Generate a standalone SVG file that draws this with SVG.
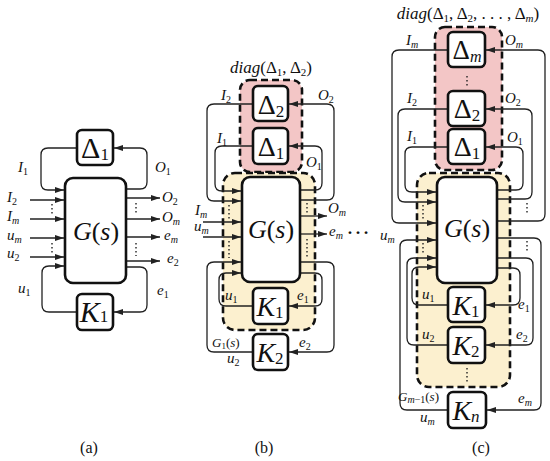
<svg xmlns="http://www.w3.org/2000/svg" width="550" height="461" viewBox="0 0 550 461" font-family="'Liberation Serif', 'DejaVu Serif', serif">
<style>
.box{fill:#fff;stroke:#111;stroke-width:2.6}
.cn{fill:none;stroke:#222;stroke-width:1.3}
.arr{marker-end:url(#ah)}
.dot{fill:none;stroke:#222;stroke-width:1.4;stroke-dasharray:1.4 2.6}
.dash{stroke:#111;stroke-width:2.6;stroke-dasharray:7 4}
.red{fill:#f3c6c6}
.yel{fill:#fcf0cf}
text, tspan{font-family:"Liberation Serif","DejaVu Serif",serif}
text{fill:#111}
.m{font-style:italic;font-size:15px}
.s{font-size:10px}
.n{font-style:normal}
.bg{font-size:28px;text-anchor:middle}
.bs{font-size:17px}
.cap{font-size:16px;text-anchor:middle}
</style>
<defs>
<marker id="ah" viewBox="0 0 9 6" refX="9" refY="3" markerWidth="9" markerHeight="6" orient="auto" markerUnits="userSpaceOnUse">
<path d="M0,0 L9,3 L0,6 z" fill="#222"/>
</marker>
</defs>

<!-- regions -->
<g id="region-b-diag"><rect class="red dash" x="240" y="80" width="62" height="92" rx="10"/></g>
<g id="region-b-G1"><rect class="yel dash" x="223" y="173" width="92" height="157" rx="12"/></g>
<g id="region-c-diag"><rect class="red dash" x="435" y="27" width="67" height="143" rx="10"/></g>
<g id="region-c-Gm1"><rect class="yel dash" x="417" y="173" width="93" height="214" rx="12"/></g>

<!-- connectors -->
<g id="connectors">
<!-- panel a -->
<path class="cn arr" d="M77,148 H48 Q41,148 41,155 V183 Q41,190 48,190 H64"/>
<path class="cn arr" d="M126,189 H140 Q147,189 147,182 V155 Q147,148 140,148 H114"/>
<path class="cn arr" d="M30,200 H64"/>
<path class="cn arr" d="M30,219 H64"/>
<path class="cn arr" d="M30,238 H64"/>
<path class="cn arr" d="M30,257 H64"/>
<path class="cn arr" d="M77,312 H49 Q42,312 42,305 V273 Q42,266 49,266 H64"/>
<path class="cn arr" d="M126,267 H140 Q147,267 147,274 V305 Q147,312 140,312 H114"/>
<path class="cn arr" d="M126,198 H160"/>
<path class="cn arr" d="M126,219 H160"/>
<path class="cn arr" d="M126,237 H160"/>
<path class="cn arr" d="M126,261 H160"/>
<path class="dot" d="M52,204 V215 M52,243 V254 M136,203 V214 M136,243 V256"/>
<!-- panel b -->
<path class="cn arr" d="M253,104 H214 Q207,104 207,111 V194 Q207,201 214,201 H241"/>
<path class="cn arr" d="M300,200 H327 Q334,200 334,193 V111 Q334,104 327,104 H289"/>
<path class="cn arr" d="M253,146 H222 Q215,146 215,153 V184 Q215,191 222,191 H241"/>
<path class="cn arr" d="M300,190 H315 Q322,190 322,183 V153 Q322,146 315,146 H289"/>
<path class="cn arr" d="M203,222 H241"/>
<path class="cn arr" d="M203,237 H241"/>
<path class="cn arr" d="M300,216 H327"/>
<path class="cn arr" d="M300,234 H327"/>
<path class="cn arr" d="M253,306 H226 Q219,306 219,299 V280 Q219,273 226,273 H241"/>
<path class="cn arr" d="M300,273 H315 Q322,273 322,280 V299 Q322,306 315,306 H289"/>
<path class="cn arr" d="M253,352 H214 Q207,352 207,345 V269 Q207,262 214,262 H241"/>
<path class="cn arr" d="M300,262 H327 Q334,262 334,269 V345 Q334,352 327,352 H289"/>
<path class="dot" d="M229,205 V219 M229,241 V258 M307,203 V213 M307,239 V257"/>
<!-- panel c -->
<path class="cn arr" d="M448,50 H399 Q392,50 392,57 V216 Q392,223 399,223 H436"/>
<path class="cn arr" d="M448,109 H405 Q398,109 398,116 V195 Q398,202 405,202 H436"/>
<path class="cn arr" d="M448,147 H412 Q405,147 405,154 V185 Q405,192 412,192 H436"/>
<path class="cn arr" d="M497,221 H538 Q545,221 545,214 V57 Q545,50 538,50 H486"/>
<path class="cn arr" d="M497,199 H525 Q532,199 532,192 V116 Q532,109 525,109 H486"/>
<path class="cn arr" d="M497,190 H516 Q523,190 523,183 V154 Q523,147 516,147 H486"/>
<path class="cn arr" d="M448,410 H407 Q400,410 400,403 V247 Q400,240 407,240 H436"/>
<path class="cn arr" d="M448,345 H414 Q407,345 407,338 V265 Q407,258 414,258 H436"/>
<path class="cn arr" d="M448,305 H419 Q412,305 412,298 V274 Q412,267 419,267 H436"/>
<path class="cn arr" d="M497,238 H534 Q541,238 541,245 V403 Q541,410 534,410 H487"/>
<path class="cn arr" d="M497,258 H526 Q533,258 533,265 V338 Q533,345 526,345 H486"/>
<path class="cn arr" d="M497,268 H513 Q520,268 520,275 V298 Q520,305 513,305 H486"/>
<path class="dot" d="M423,205 V219 M423,243 V255 M527,203 V215 M527,241 V252 M467,76 V88 M467,368 V384"/>
</g>

<!-- nodes panel a -->
<g id="a-Delta1"><rect class="box" x="77" y="130" width="36" height="35" rx="5"/>
<text class="bg" x="95" y="158" style="font-size:30px">Δ<tspan class="bs" dy="2">1</tspan></text></g>
<g id="a-G"><rect class="box" x="65" y="178" width="61" height="105" rx="8"/>
<text class="bg m" x="96" y="240" style="font-size:26px">G<tspan class="n">(</tspan>s<tspan class="n">)</tspan></text></g>
<g id="a-K1"><rect class="box" x="77" y="294" width="36" height="36" rx="5"/>
<text class="bg m" x="94" y="322" style="font-size:30px">K<tspan class="bs n" dy="0">1</tspan></text></g>

<!-- nodes panel b -->
<g id="b-Delta2"><rect class="box" x="253" y="86" width="35" height="35" rx="5"/>
<text class="bg" x="271" y="114">Δ<tspan class="bs" dy="3">2</tspan></text></g>
<g id="b-Delta1"><rect class="box" x="253" y="128" width="35" height="36" rx="5"/>
<text class="bg" x="271" y="156">Δ<tspan class="bs" dy="3">1</tspan></text></g>
<g id="b-G"><rect class="box" x="242" y="177" width="58" height="105" rx="8"/>
<text class="bg m" x="271" y="238" style="font-size:26px">G<tspan class="n">(</tspan>s<tspan class="n">)</tspan></text></g>
<g id="b-K1"><rect class="box" x="253" y="288" width="35" height="36" rx="5"/>
<text class="bg m" x="270" y="316">K<tspan class="bs n" dy="2">1</tspan></text></g>
<g id="b-K2"><rect class="box" x="253" y="334" width="35" height="36" rx="5"/>
<text class="bg m" x="270" y="362">K<tspan class="bs n" dy="2">2</tspan></text></g>

<!-- nodes panel c -->
<g id="c-Deltam"><rect class="box" x="448" y="32" width="37" height="35" rx="5"/>
<text class="bg" x="467" y="59" style="font-size:27px">Δ<tspan class="bs m" style="font-size:16px" dy="3">m</tspan></text></g>
<g id="c-Delta2"><rect class="box" x="448" y="91" width="37" height="35" rx="5"/>
<text class="bg" x="467" y="118">Δ<tspan class="bs" dy="3">2</tspan></text></g>
<g id="c-Delta1"><rect class="box" x="448" y="129" width="37" height="35" rx="5"/>
<text class="bg" x="467" y="156">Δ<tspan class="bs" dy="3">1</tspan></text></g>
<g id="c-G"><rect class="box" x="437" y="177" width="60" height="106" rx="8"/>
<text class="bg m" x="467" y="237" style="font-size:26px">G<tspan class="n">(</tspan>s<tspan class="n">)</tspan></text></g>
<g id="c-K1"><rect class="box" x="448" y="287" width="37" height="35" rx="5"/>
<text class="bg m" x="466" y="315">K<tspan class="bs n" dy="2">1</tspan></text></g>
<g id="c-K2"><rect class="box" x="448" y="327" width="37" height="36" rx="5"/>
<text class="bg m" x="466" y="355">K<tspan class="bs n" dy="2">2</tspan></text></g>
<g id="c-Kn"><rect class="box" x="448" y="392" width="38" height="36" rx="5"/>
<text class="bg m" x="466" y="420">K<tspan class="bs" dy="2">n</tspan></text></g>

<!-- labels -->
<g id="labels">
<text class="m" x="18" y="172">I<tspan class="s n" dy="3">1</tspan></text>
<text class="m" x="155" y="172">O<tspan class="s n" dy="3">1</tspan></text>
<text class="m" x="7" y="202">I<tspan class="s n" dy="3">2</tspan></text>
<text class="m" x="7" y="221">I<tspan class="s" dy="3">m</tspan></text>
<text class="m" x="7" y="240">u<tspan class="s" dy="3">m</tspan></text>
<text class="m" x="7" y="258">u<tspan class="s n" dy="3">2</tspan></text>
<text class="m" x="18" y="293">u<tspan class="s n" dy="3">1</tspan></text>
<text class="m" x="157" y="295">e<tspan class="s n" dy="3">1</tspan></text>
<text class="m" x="162" y="202">O<tspan class="s n" dy="3">2</tspan></text>
<text class="m" x="162" y="222">O<tspan class="s" dy="3">m</tspan></text>
<text class="m" x="164" y="240">e<tspan class="s" dy="3">m</tspan></text>
<text class="m" x="167" y="263">e<tspan class="s n" dy="3">2</tspan></text>

<text class="m" x="271" y="73" text-anchor="middle" style="font-size:17px">diag<tspan class="n">(Δ</tspan><tspan class="s n" style="font-size:11px" dy="3">1</tspan><tspan class="n" dy="-3">, Δ</tspan><tspan class="s n" style="font-size:11px" dy="3">2</tspan><tspan class="n" dy="-3">)</tspan></text>
<text class="m" x="221" y="100">I<tspan class="s n" dy="3">2</tspan></text>
<text class="m" x="318" y="100">O<tspan class="s n" dy="3">2</tspan></text>
<text class="m" x="217" y="143">I<tspan class="s n" dy="3">1</tspan></text>
<text class="m" x="306" y="167">O<tspan class="s n" dy="3">1</tspan></text>
<text class="m" x="195" y="215">I<tspan class="s" dy="3">m</tspan></text>
<text class="m" x="194" y="231">u<tspan class="s" dy="3">m</tspan></text>
<text class="m" x="328" y="213">O<tspan class="s" dy="3">m</tspan></text>
<text class="m" x="329" y="236">e<tspan class="s" dy="3">m</tspan></text>

<text class="m" x="225" y="300">u<tspan class="s n" dy="3">1</tspan></text>
<text class="m" x="297" y="300">e<tspan class="s n" dy="3">1</tspan></text>
<text class="m" x="212" y="347" style="font-size:13px">G<tspan class="n" style="font-size:9px" dy="2">1</tspan><tspan class="n" dy="-2">(</tspan>s<tspan class="n">)</tspan></text>
<text class="m" x="227" y="363">u<tspan class="s n" dy="3">2</tspan></text>
<text class="m" x="299" y="347">e<tspan class="s n" dy="3">2</tspan></text>

<text x="358" y="234" text-anchor="middle" style="font-size:24px">…</text>

<text class="m" x="468" y="19" text-anchor="middle" style="font-size:17px">diag<tspan class="n">(Δ</tspan><tspan class="s n" style="font-size:11px" dy="3">1</tspan><tspan class="n" dy="-3">, Δ</tspan><tspan class="s n" style="font-size:11px" dy="3">2</tspan><tspan class="n" dy="-3">, . . . , Δ</tspan><tspan class="s" style="font-size:11px" dy="3">m</tspan><tspan class="n" dy="-3">)</tspan></text>
<text class="m" x="406" y="45">I<tspan class="s" dy="3">m</tspan></text>
<text class="m" x="505" y="45">O<tspan class="s" dy="3">m</tspan></text>
<text class="m" x="407" y="103">I<tspan class="s n" dy="3">2</tspan></text>
<text class="m" x="505" y="103">O<tspan class="s n" dy="3">2</tspan></text>
<text class="m" x="407" y="141">I<tspan class="s n" dy="3">1</tspan></text>
<text class="m" x="507" y="142">O<tspan class="s n" dy="3">1</tspan></text>
<text class="m" x="380" y="240">u<tspan class="s" dy="3">m</tspan></text>
<text class="m" x="422" y="299">u<tspan class="s n" dy="3">1</tspan></text>
<text class="m" x="518" y="309">e<tspan class="s n" dy="3">1</tspan></text>
<text class="m" x="422" y="339">u<tspan class="s n" dy="3">2</tspan></text>
<text class="m" x="516" y="339">e<tspan class="s n" dy="3">2</tspan></text>
<text class="m" x="398" y="401" style="font-size:13px">G<tspan style="font-size:10px" dy="2">m</tspan><tspan class="n" style="font-size:10px">−1</tspan><tspan class="n" dy="-2">(</tspan>s<tspan class="n">)</tspan></text>
<text class="m" x="518" y="403">e<tspan class="s" dy="3">m</tspan></text>
<text class="m" x="420" y="422">u<tspan class="s" dy="3">m</tspan></text>

<text class="cap" x="89" y="453">(a)</text>
<text class="cap" x="264" y="453">(b)</text>
<text class="cap" x="481" y="453">(c)</text>
</g>
</svg>
